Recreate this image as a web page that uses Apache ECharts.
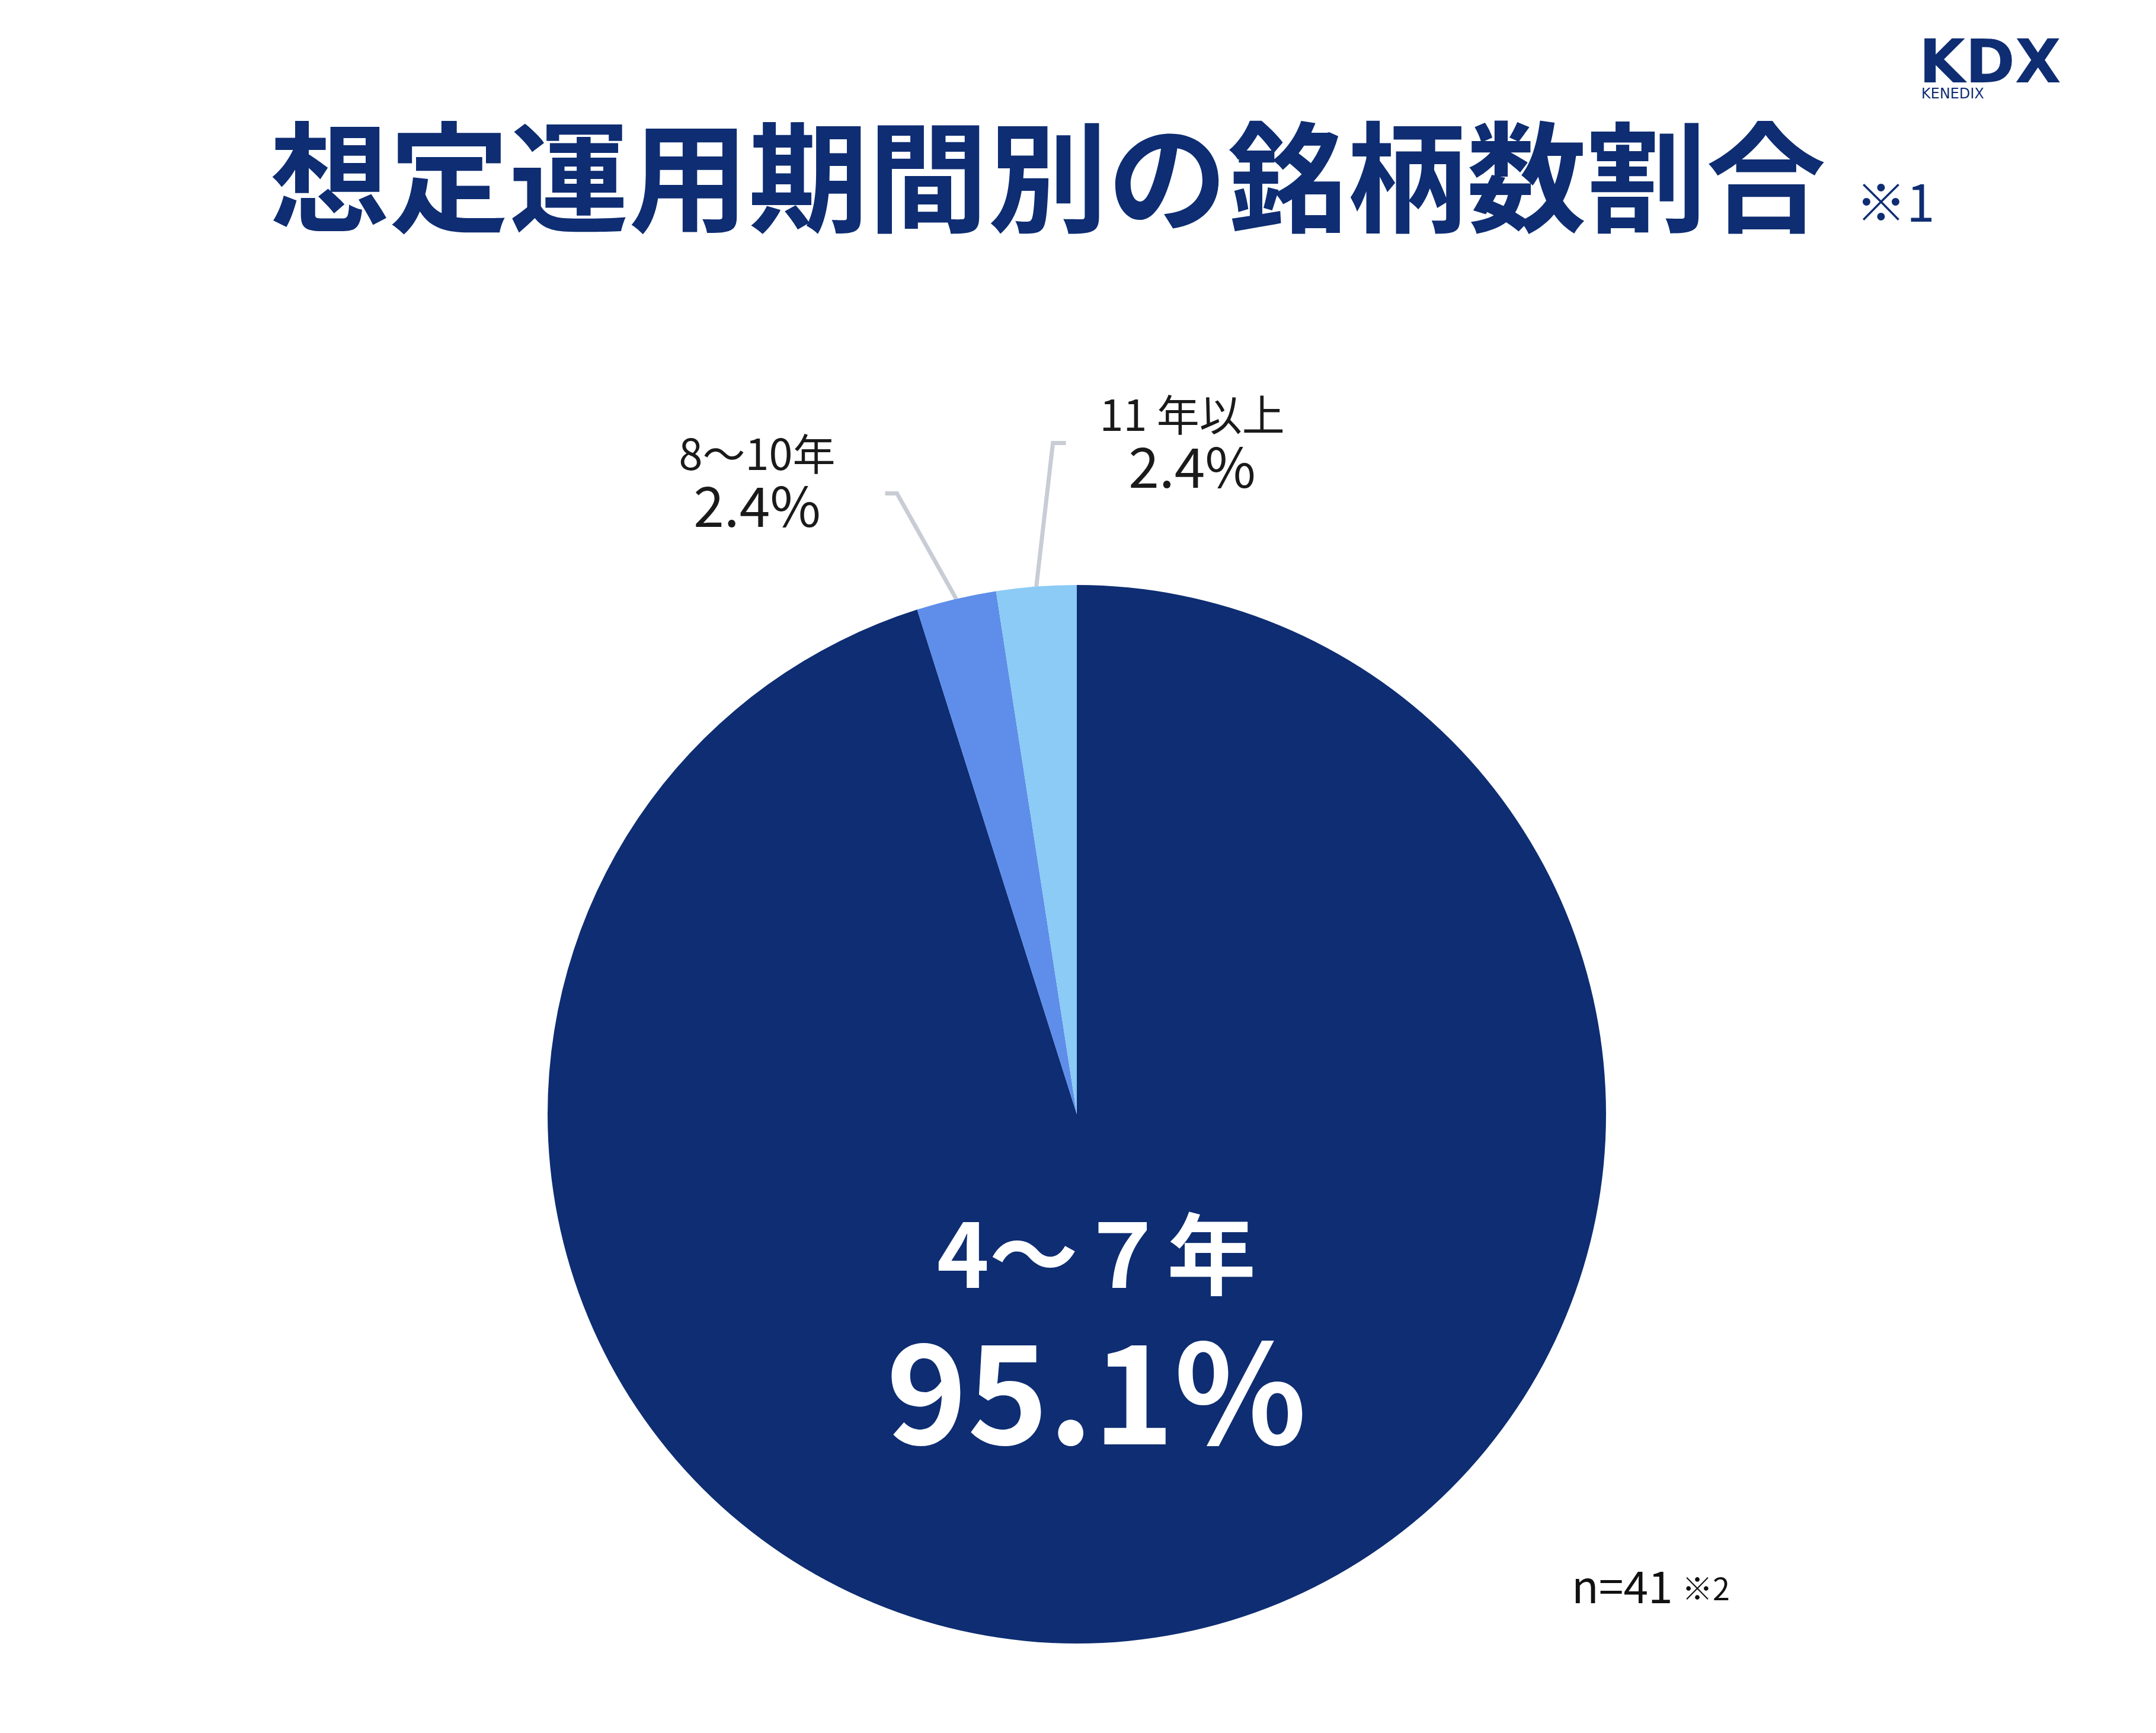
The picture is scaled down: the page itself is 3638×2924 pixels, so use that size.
<!DOCTYPE html>
<html><head><meta charset="utf-8">
<script src="https://cdn.jsdelivr.net/npm/echarts@6/dist/echarts.min.js"></script>
<style>html,body{margin:0;padding:0;background:#fff}#c{width:3638px;height:2924px}</style>
</head><body><div id="c"></div>
<script>
// ---- data ----
const categories = ['4～７年', '8～10年', '11 年以上'];
const counts = [39, 1, 1];
const titleText = '想定運用期間別の銘柄数割合';
const titleNote = '※1';
const sampleText = 'n=41';
const sampleNote = '※2';
const logoMain = 'KDX';
const logoSub = 'KENEDIX';

// ---- styles ----
const sliceColors = ['#0e2d72', '#5e8eea', '#8bcbf5'];
const navy = '#0e2d72';
const FONT = '"Noto Sans CJK JP", "Noto Sans CJK SC", sans-serif';
const guideOffsets = [
  null,
  { bend: [-100, -178], tail: [-20, 0], text: [-216, -17] },
  { bend: [28, -242], tail: [22, 0], text: [213, 2] }
];

const total = counts.reduce((a, b) => a + b, 0);
const pct = v => (v / total * 100).toFixed(1) + '%';

const chart = echarts.init(document.getElementById('c'), null, { renderer: 'canvas' });
chart.setOption({
  backgroundColor: '#ffffff',
  animation: false,
  graphic: [
    { type: 'text', x: 455, y: 299, style: { text: titleText, fontSize: 202, fontWeight: 'bold', fontFamily: FONT, fill: navy, align: 'left', verticalAlign: 'middle' } },
    { type: 'text', x: 3131, y: 341, style: { text: titleNote, fontSize: 86, fontFamily: FONT, fill: navy, align: 'left', verticalAlign: 'middle' } },
    { type: 'text', x: 2652, y: 2676, style: { text: sampleText, fontSize: 75, fontFamily: FONT, fill: '#111111', align: 'left', verticalAlign: 'middle' } },
    { type: 'text', x: 2838, y: 2680, style: { text: sampleNote, fontSize: 52, fontFamily: FONT, fill: '#111111', align: 'left', verticalAlign: 'middle' } },
    { type: 'text', x: 3238, y: 113, style: { text: logoMain, fontSize: 101, fontWeight: 'bold', fontFamily: '"DejaVu Sans"', fill: navy, align: 'left', verticalAlign: 'middle' } },
    { type: 'text', x: 3242, y: 160, style: { text: logoSub, fontSize: 24, fontFamily: '"DejaVu Sans"', fill: navy, align: 'left', verticalAlign: 'middle' } }
  ],
  series: [{
    type: 'pie',
    center: [1817, 1880],
    radius: 893,
    startAngle: 90,
    clockwise: true,
    avoidLabelOverlap: false,
    silent: true,
    label: {
      show: true,
      position: 'outside',
      color: '#1a1a1a',
      fontFamily: FONT,
      formatter: p => p.dataIndex === 0
        ? '{a|' + p.name + '}\n{b|' + pct(p.value) + '}'
        : '{n|' + p.name + '}\n{p|' + pct(p.value) + '}',
      rich: {
        a: { fontSize: 150, fontWeight: 'bold', color: '#ffffff', lineHeight: 220, fontFamily: FONT, align: 'center' },
        b: { fontSize: 232, fontWeight: 'bold', color: '#ffffff', lineHeight: 246, fontFamily: FONT, align: 'center' },
        n: { fontSize: 72, color: '#1a1a1a', lineHeight: 76, fontFamily: FONT, align: 'center' },
        p: { fontSize: 93, color: '#1a1a1a', lineHeight: 100, fontFamily: FONT, align: 'center' }
      }
    },
    labelLine: { show: true, length: 100, length2: 20, lineStyle: { color: '#c8cdd5', width: 7 } },
    labelLayout: function (params) {
      const g = guideOffsets[params.dataIndex];
      if (!g || !params.labelLinePoints) return {};
      const p0 = params.labelLinePoints[0];
      const p1 = [p0[0] + g.bend[0], p0[1] + g.bend[1]];
      const p2 = [p1[0] + g.tail[0], p1[1] + g.tail[1]];
      return { x: p2[0] + g.text[0], y: p2[1] + g.text[1], align: 'center', verticalAlign: 'middle', labelLinePoints: [p0, p1, p2] };
    },
    data: categories.map((name, i) => {
      const item = { name: name, value: counts[i], itemStyle: { color: sliceColors[i] } };
      if (i === 0) {
        item.label = { position: 'center', offset: [33, 359] };
        item.labelLine = { show: false };
      }
      return item;
    })
  }]
});
</script></body></html>
